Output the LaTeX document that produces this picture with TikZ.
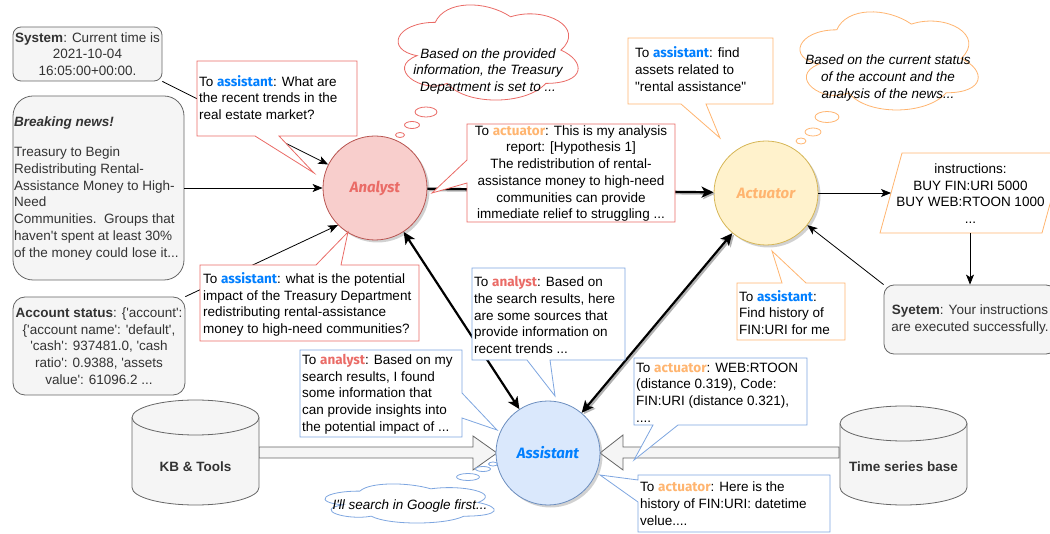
\documentclass[tikz,border=0pt]{standalone}
\usepackage{fontspec}
\setmainfont[Ligatures=TeXOff]{Liberation Sans}
\newfontfamily\rolefont[Ligatures=TeXOff]{Fira Sans}
\usetikzlibrary{shapes.geometric,shadows,arrows.meta}
\definecolor{redS}{HTML}{EA6B66}
\definecolor{orS}{HTML}{FFB570}
\definecolor{blS}{HTML}{7EA6E0}
\definecolor{asC}{HTML}{007FFF}
\definecolor{anC}{HTML}{EA6B66}
\definecolor{acC}{HTML}{FFB570}
\definecolor{gfill}{HTML}{F5F5F5}
\definecolor{gline}{HTML}{666666}
\definecolor{gtext}{HTML}{333333}
\definecolor{anFill}{HTML}{F8CECC}
\definecolor{anLine}{HTML}{B85450}
\definecolor{acFill}{HTML}{FFF2CC}
\definecolor{acLine}{HTML}{D6B656}
\definecolor{asFill}{HTML}{DAE8FC}
\definecolor{asLine}{HTML}{6C8EBF}
\newcommand{\fs}{\fontsize{13.5}{16.7}\selectfont}
\newcommand{\rAs}{{\rolefont\bfseries\color{asC}assistant}}
\newcommand{\rAn}{{\rolefont\bfseries\color{anC}analyst}}
\newcommand{\rAc}{{\rolefont\bfseries\color{acC}actuator}}
% draw.io style cloud: x0, y0, w, h, style
\newcommand{\dioCloud}[5]{%
  \begin{scope}[shift={(#1,#2)},xscale=#3,yscale=#4]
  \draw[#5] (0.25,0.25) .. controls (0.05,0.25) and (0,0.5) .. (0.16,0.55)
    .. controls (0,0.66) and (0.18,0.9) .. (0.31,0.8)
    .. controls (0.4,1) and (0.7,1) .. (0.8,0.8)
    .. controls (1,0.8) and (1,0.6) .. (0.875,0.5)
    .. controls (1,0.3) and (0.8,0.1) .. (0.625,0.2)
    .. controls (0.5,0.05) and (0.3,0.05) .. (0.25,0.25) -- cycle;
  \end{scope}}
\tikzset{
  graybox/.style={draw=gline, fill=gfill, line width=0.8pt, text=gtext, font=\fs, inner sep=1pt},
  gtxt/.style={text=gtext, font=\fs, inner sep=0pt},
  ctxt/.style={font=\fs, inner sep=0pt, anchor=west, align=left},
  redc/.style={draw=redS, fill=white, line width=0.8pt},
  orc/.style={draw=orS, fill=white, line width=0.8pt},
  blc/.style={draw=blS, fill=white, line width=0.8pt},
  agent/.style={circle, minimum size=104pt, inner sep=0pt, line width=0.8pt,
    font=\rolefont\bfseries\itshape\fontsize{15}{18}\selectfont,
    drop shadow={shadow xshift=2.5pt, shadow yshift=-2.5pt, opacity=0.4, fill=black!45}},
  thinarr/.style={line width=0.8pt, -{Stealth[length=10pt,width=8pt,inset=2.5pt]}},
  thickarr/.style={line width=2.2pt, -{Stealth[length=12pt,width=11pt,inset=3pt]}},
  dblarr/.style={line width=2.2pt, {Stealth[length=12pt,width=11pt,inset=3pt]}-{Stealth[length=12pt,width=11pt,inset=3pt]}},
  bigarr/.style={draw=gline, fill=gfill, line width=0.8pt},
  bub/.style={ellipse, fill=white, line width=0.8pt, inner sep=0pt},
  ttxt/.style={font=\fs\itshape, inner sep=0pt, align=center}
}
\begin{document}
\begin{tikzpicture}[x=1pt,y=-1pt]
\useasboundingbox (0,0) rectangle (1050,534);

% ---------- gray boxes ----------
\node[graybox, rounded corners=8pt, minimum width=149pt, minimum height=54pt, align=center] (sys1) at (87.5,54)
  {\textbf{System}: Current time is\\2021-10-04\\16:05:00+00:00.};
\node[graybox, rounded corners=20pt, minimum width=171pt, minimum height=184pt] (news) at (98.5,188) {};
\node[gtxt, anchor=west] (newsh) at (14,123) {\textbf{\textit{Breaking news!}}};
\node[gtxt, anchor=west, align=left] (newsb) at (14,203.5)
  {Treasury to Begin\\Redistributing Rental-\\Assistance Money to High-\\Need\\Communities.\ \ Groups that\\haven't spent at least 30\%\\of the money could lose it...};
\node[graybox, rounded corners=12pt, minimum width=172pt, minimum height=98pt, align=center] (acct) at (99,346)
  {\textbf{Account status}: \{'account':\\\{'account name': 'default',\\'cash': 937481.0, 'cash\\ratio': 0.9388, 'assets\\value': 61096.2 ...};
\node[graybox, rounded corners=10pt, minimum width=172pt, minimum height=69pt, align=center] (sys2) at (970,319.5)
  {\textbf{Syetem}: Your instructions\\are executed successfully.};

% ---------- big hollow arrows ----------
\draw[bigarr] (259,447) -- (473,447) -- (473,436) -- (497,453) -- (473,470) -- (473,458) -- (259,458) -- cycle;
\draw[bigarr] (839,447) -- (623,447) -- (623,435) -- (600,453) -- (623,470) -- (623,458) -- (839,458) -- cycle;

% ---------- cylinders ----------
\draw[bigarr] (132,417.5) -- (132,487.5) arc[start angle=180, end angle=0, x radius=63.5, y radius=17.5]
  -- (259,417.5) arc[start angle=0, end angle=-180, x radius=63.5, y radius=17.5] -- cycle;
\draw[draw=gline, line width=0.8pt] (132,417.5) arc[start angle=180, end angle=0, x radius=63.5, y radius=17.5];
\node[gtxt, font=\fs\bfseries] (kb) at (195.5,467) {KB \& Tools};
\draw[bigarr] (840,423.5) -- (840,487.5) arc[start angle=180, end angle=0, x radius=63.5, y radius=17.5]
  -- (967,423.5) arc[start angle=0, end angle=-180, x radius=63.5, y radius=17.5] -- cycle;
\draw[draw=gline, line width=0.8pt] (840,423.5) arc[start angle=180, end angle=0, x radius=63.5, y radius=17.5];
\node[gtxt, font=\fs\bfseries] (tsb) at (903.5,467) {Time series base};

% ---------- agents ----------
\node[agent, draw=anLine, fill=anFill, text=anC] (analyst) at (375,188) {Analyst};
\node[agent, draw=acLine, fill=acFill, text=acC] (actuator) at (766,193) {Actuator};
\node[agent, draw=asLine, fill=asFill, text=asC] (assistant) at (548,453) {Assistant};

% ---------- instructions ----------
\draw[draw=orS, fill=white, line width=0.8pt] (902,153) -- (1064,153) -- (1042,233) -- (880,233) -- cycle;
\node[font=\fs, inner sep=0pt, align=center] (instr) at (970.5,193.5) {instructions:\\BUY FIN:URI 5000\\BUY WEB:RTOON 1000\\...};
\coordinate (instrL) at (891,193);
\coordinate (instrB) at (970,233);

% ---------- connectors ----------
\draw[thinarr] (sys1.south east) -- (analyst);
\draw[thinarr] (news.east) -- (analyst);
\draw[thinarr] (acct.north east) -- (analyst.225);
\draw[thinarr] (actuator) -- (instrL);
\draw[thinarr] (instrB) -- (sys2.north);
\draw[thinarr] (sys2.north west) -- (actuator);
\draw[thickarr, black!30, transform canvas={xshift=1.5pt,yshift=-1.5pt}] (analyst) -- (actuator);
\draw[thickarr] (analyst) -- (actuator);
\draw[dblarr] (analyst) -- (assistant);
\draw[dblarr, black!30, transform canvas={xshift=1.8pt,yshift=-1.5pt}] (assistant) -- (actuator);
\draw[dblarr] (assistant) -- (actuator);

% ---------- callouts ----------
\draw[redc] (197,61) -- (357,61) -- (357,136) -- (279,136) -- (314,173) -- (255,136) -- (197,136) -- cycle;
\node[ctxt] (c1) at (199,97.5) {To \rAs: What are\\the recent trends in the\\real estate market?};

\draw[redc] (200,265) -- (316,265) -- (348,232) -- (341,265) -- (419,265) -- (419,341) -- (200,341) -- cycle;
\node[ctxt] (c2) at (203,304.5) {To \rAs: what is the potential\\impact of the Treasury Department\\redistributing rental-assistance\\money to high-need communities?};

\draw[redc] (467,124) -- (675,124) -- (675,222) -- (467,222) -- (467,183) -- (432,193) -- (467,160) -- cycle;
\node[font=\fs, inner sep=0pt, align=center] (c3) at (571,173.5) {To \rAc: This is my analysis\\report: [Hypothesis 1]\\The redistribution of rental-\\assistance money to high-need\\communities can provide\\immediate relief to struggling ...};

\draw[orc] (628,38) -- (773,38) -- (773,104) -- (706,104) -- (720,138) -- (681,104) -- (628,104) -- cycle;
\node[ctxt] (c4) at (635,69) {To \rAs: find\\assets related to\\"rental assistance"};

\draw[orc] (737,283) -- (782,283) -- (772,251) -- (806,283) -- (845,283) -- (845,340) -- (737,340) -- cycle;
\node[ctxt] (c5) at (739,312.5) {To \rAs:\\Find history of\\FIN:URI for me};

\draw[blc] (472,268) -- (625,268) -- (625,360) -- (550,360) -- (555,396) -- (527,360) -- (472,360) -- cycle;
\node[ctxt] (c6) at (474,315) {To \rAn: Based on\\the search results, here\\are some sources that\\provide information on\\recent trends ...};

\draw[blc] (300,350) -- (462,350) -- (462,393) -- (497,430) -- (462,418) -- (462,437) -- (300,437) -- cycle;
\node[ctxt] (c7) at (302,394) {To \rAn: Based on my\\search results, I found\\some information that\\can provide insights into\\the potential impact of ...};

\draw[blc] (634,358) -- (807,358) -- (807,425) -- (678,425) -- (634,460) -- (653,425) -- (634,425) -- cycle;
\node[ctxt] (c8) at (636,392.5) {To \rAc: WEB:RTOON\\(distance 0.319), Code:\\FIN:URI (distance 0.321),\\....};

\draw[blc] (638,475) -- (830,475) -- (830,532) -- (638,532) -- (638,502) -- (600,475) -- (638,480) -- cycle;
\node[ctxt] (c9) at (640,503.5) {To \rAc: Here is the\\history of FIN:URI: datetime\\velue....};

% ---------- thoughts ----------
\dioCloud{385}{-5.4}{201}{111}{draw=redS, fill=white, line width=0.8pt}
\node[ttxt] (cl1t) at (488,71.5) {Based on the provided\\information, the Treasury\\Department is set to ...};
\node[bub, draw=redS, minimum width=22pt, minimum height=10pt] (rb1) at (426,112) {};
\node[bub, draw=redS, minimum width=15pt, minimum height=7pt] (rb2) at (412,125) {};
\node[bub, draw=redS, minimum width=9pt, minimum height=5pt] (rb3) at (400,135) {};

\dioCloud{787}{1.2}{199}{114.5}{draw=orS, fill=white, line width=0.8pt}
\node[ttxt] (cl2t) at (888,78) {Based on the current status\\of the account and the\\analysis of the news...};
\node[bub, draw=orS, minimum width=24pt, minimum height=11pt] (ob1) at (827,117) {};
\node[bub, draw=orS, minimum width=16pt, minimum height=8pt] (ob2) at (813,132) {};
\node[bub, draw=orS, minimum width=10pt, minimum height=6pt] (ob3) at (801,141) {};

\dioCloud{312.7}{479.7}{189}{45.6}{draw=blS, fill=white, line width=0.8pt}
\node[ttxt] (cl3t) at (410,506) {I'll search in Google first...};
\node[bub, draw=blS, minimum width=23pt, minimum height=7pt] (bb1) at (468,477) {};
\node[bub, draw=blS, minimum width=15pt, minimum height=5pt] (bb2) at (483,469) {};
\node[bub, draw=blS, minimum width=9pt, minimum height=4pt] (bb3) at (493,464) {};
\end{tikzpicture}
\end{document}
